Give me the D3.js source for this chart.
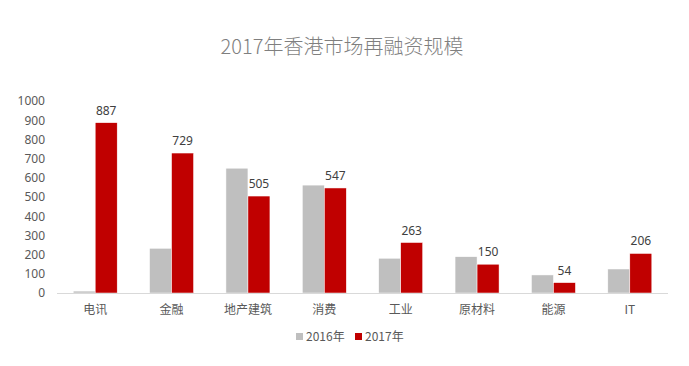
<!DOCTYPE html>
<html>
<head>
<meta charset="utf-8">
<script src="https://d3js.org/d3.v7.min.js"></script>
<style>
  body { margin: 0; background: #fff; }
  text { font-family: "Noto Sans CJK SC", "Noto Sans", sans-serif; }
</style>
</head>
<body>
<script>
  // chart data
  var categories = ["电讯", "金融", "地产建筑", "消费", "工业", "原材料", "能源", "IT"];
  var values2016 = [10, 233, 650, 562, 181, 189, 94, 125];
  var values2017 = [887, 729, 505, 547, 263, 150, 54, 206];
  var yTicks = [0, 100, 200, 300, 400, 500, 600, 700, 800, 900, 1000];
  var seriesNames = ["2016年", "2017年"];
  var colors = ["#bfbfbf", "#c00000"];

  var W = 689, H = 366;
  var plotLeft = 57, plotRight = 668, plotTop = 101, plotBottom = 293;

  var svg = d3.select("body").append("svg")
    .attr("width", W).attr("height", H);

  var x0 = d3.scaleBand().domain(categories).range([plotLeft, plotRight]).padding(0);
  var step = x0.step();
  var x1 = d3.scaleBand().domain(seriesNames)
    .range([step / 2 - 22, step / 2 + 22]).padding(0);
  var y = d3.scaleLinear().domain([0, 1000]).range([plotBottom, plotTop]);

  // title
  svg.append("text")
    .attr("x", 342).attr("y", 54)
    .attr("text-anchor", "middle")
    .style("font-size", "20px")
    .style("font-weight", 300)
    .style("fill", "#7f7f7f")
    .text("2017年香港市场再融资规模");

  // y axis labels
  var yAxis = svg.append("g")
    .attr("transform", "translate(45,0)")
    .call(d3.axisLeft(y).tickValues(yTicks).tickFormat(d3.format("d")).tickSize(0).tickPadding(0));
  yAxis.select(".domain").remove();
  yAxis.selectAll("text")
    .style("font-size", "12px")
    .style("fill", "#595959")
    .style("font-family", "\"Noto Sans\", sans-serif");

  var data = categories.map(function(c, i) {
    return { cat: c, vals: [values2016[i], values2017[i]] };
  });

  var groups = svg.selectAll("g.cat")
    .data(data).enter().append("g")
    .attr("class", "cat")
    .attr("transform", function(d) { return "translate(" + x0(d.cat) + ",0)"; });

  groups.selectAll("rect")
    .data(function(d) { return d.vals.map(function(v, j) { return { s: seriesNames[j], v: v, j: j }; }); })
    .enter().append("rect")
    .attr("x", function(d) { return x1(d.s); })
    .attr("width", x1.bandwidth())
    .attr("y", function(d) { return y(d.v); })
    .attr("height", function(d) { return plotBottom - y(d.v); })
    .attr("fill", function(d) { return colors[d.j]; })
    .attr("stroke", "#fff")
    .attr("stroke-width", 0.5);

  // data labels over 2017 bars
  groups.append("text")
    .attr("x", function(d) { return x1(seriesNames[1]) + x1.bandwidth() / 2; })
    .attr("y", function(d) { return y(d.vals[1]) - 8; })
    .attr("text-anchor", "middle")
    .style("font-size", "12px")
    .style("fill", "#404040")
    .style("font-family", "\"Noto Sans\", sans-serif")
    .text(function(d) { return d.vals[1]; });

  // x axis
  svg.append("line")
    .attr("x1", plotLeft).attr("x2", plotRight)
    .attr("y1", plotBottom + 0.5).attr("y2", plotBottom + 0.5)
    .attr("stroke", "#d9d9d9");

  svg.selectAll("text.xl")
    .data(categories).enter().append("text")
    .attr("class", "xl")
    .attr("x", function(d) { return x0(d) + step / 2; })
    .attr("y", 314)
    .attr("text-anchor", "middle")
    .style("font-size", "12px")
    .style("fill", "#595959")
    .text(function(d) { return d; });

  // legend
  var legendX = [296, 355];
  var legend = svg.selectAll("g.lg")
    .data(seriesNames).enter().append("g")
    .attr("class", "lg")
    .attr("transform", function(d, i) { return "translate(" + legendX[i] + ",333)"; });
  legend.append("rect")
    .attr("width", 7).attr("height", 7)
    .attr("fill", function(d, i) { return colors[i]; });
  legend.append("text")
    .attr("x", 10).attr("y", 8)
    .style("font-size", "12px")
    .style("fill", "#595959")
    .text(function(d) { return d; });
</script>
</body>
</html>
